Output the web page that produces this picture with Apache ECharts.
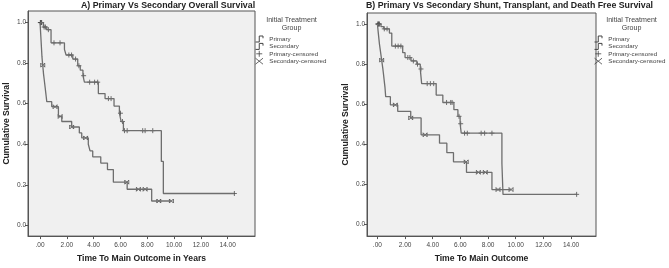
<!DOCTYPE html>
<html><head><meta charset="utf-8">
<script src="https://cdn.jsdelivr.net/npm/echarts@6/dist/echarts.min.js"></script>
<style>html,body{margin:0;padding:0;background:#fff}#c{width:669px;height:268px}</style>
</head><body><div id="c"></div>
<script>
// ---- data ----
const xTicks = [0, 2, 4, 6, 8, 10, 12, 14];
const yTicks = [0, 0.2, 0.4, 0.6, 0.8, 1.0];
const seriesNames = ['Primary', 'Secondary', 'Primary-censored', 'Secondary-censored'];
const titleA = 'A) Primary Vs Secondary Overall Survival';
const titleB = 'B) Primary Vs Secondary Shunt, Transplant, and Death Free Survival';
const xNameA = 'Time To Main Outcome in Years';
const xNameB = 'Time To Main Outcome';
const yName = 'Cumulative Survival';
const legendHeader = 'Initial Treatment\nGroup';

// Panel A - Primary (event times, survival after the event)
const aPrimT = [0, 0.25, 0.5, 0.82, 1.82, 1.94, 2.44, 2.81, 3.0, 3.2, 3.31, 4.35, 4.85, 5.52, 5.92, 6.05, 6.22, 9.05, 9.2, 14.5];
const aPrimS = [1.0, 0.978, 0.965, 0.90, 0.868, 0.84, 0.82, 0.787, 0.765, 0.738, 0.706, 0.65, 0.625, 0.588, 0.553, 0.512, 0.467, 0.315, 0.157, 0.157];
const aPrimCens = [0.02, 0.05, 0.08, 0.12, 0.3, 0.4, 0.62, 1.04, 1.49, 2.15, 2.35, 2.65, 2.9, 3.25, 3.7, 4.07, 4.3, 5.1, 5.3, 6.0, 6.15, 6.3, 6.5, 7.66, 7.84, 8.41, 14.5];
// Panel A - Secondary
const aSecT = [0, 0.02, 0.04, 0.06, 0.08, 0.1, 0.12, 0.14, 0.17, 0.2, 0.23, 0.26, 0.3, 0.34, 0.38, 0.42, 0.46, 0.5, 0.87, 1.37, 1.62, 2.36, 2.93, 3.11, 3.6, 3.73, 3.93, 4.53, 5.03, 5.47, 6.5, 8.33, 9.8];
const aSecS = [1.0, 0.976, 0.952, 0.929, 0.905, 0.881, 0.857, 0.833, 0.81, 0.79, 0.768, 0.746, 0.724, 0.702, 0.68, 0.657, 0.634, 0.61, 0.585, 0.537, 0.512, 0.485, 0.456, 0.431, 0.40, 0.367, 0.338, 0.307, 0.275, 0.213, 0.178, 0.12, 0.12];
const aSecCens = [0.2, 1.12, 1.5, 2.36, 3.4, 6.47, 7.34, 7.84, 8.86, 9.8];

// Panel B - Primary
const bPrimT = [0, 0.26, 0.46, 0.87, 1.04, 1.83, 2.0, 2.43, 2.85, 3.1, 3.2, 4.25, 4.73, 5.53, 5.82, 5.98, 6.06, 9.0, 9.08, 14.4];
const bPrimS = [1.0, 0.987, 0.976, 0.955, 0.89, 0.857, 0.833, 0.816, 0.80, 0.776, 0.703, 0.646, 0.609, 0.573, 0.54, 0.503, 0.456, 0.305, 0.151, 0.151];
const bPrimCens = [0.03, 0.06, 0.1, 0.15, 0.5, 0.7, 1.3, 1.5, 1.7, 2.2, 2.35, 2.6, 2.9, 3.15, 3.6, 3.83, 4.07, 5.0, 5.3, 5.4, 5.9, 6.02, 6.3, 6.5, 7.5, 7.75, 8.28, 14.4];
// Panel B - Secondary
const bSecT = [0, 0.03, 0.06, 0.09, 0.12, 0.15, 0.19, 0.23, 0.27, 0.31, 0.35, 0.39, 0.43, 0.47, 0.51, 0.55, 0.6, 0.94, 1.47, 2.41, 3.16, 4.49, 5.02, 5.5, 6.44, 8.28, 9.66];
const bSecS = [1.0, 0.98, 0.96, 0.94, 0.92, 0.9, 0.88, 0.86, 0.84, 0.82, 0.8, 0.78, 0.757, 0.733, 0.708, 0.684, 0.638, 0.597, 0.565, 0.532, 0.448, 0.406, 0.359, 0.313, 0.261, 0.175, 0.175];
const bSecCens = [0.31, 1.3, 2.41, 3.45, 6.42, 7.3, 7.8, 8.72, 9.66];

// ---- helpers ----
function stepData(T, S) { return T.map((t, i) => [t, S[i]]); }
function censData(C, T, S) {
  return C.map(c => {
    let v = S[0];
    for (let i = 0; i < T.length; i++) { if (T[i] <= c + 1e-9) v = S[i]; }
    return [c, v];
  });
}

const FONT = 'Liberation Sans, Arial, sans-serif';
const LINE = '#6e6e6e';
const MARK = '#3a3a3a';
const plusPath = 'path://M5,0L5,10M0,5L10,5';
const xPath = 'path://M0,0L10,10M10,0L0,10M0,0L0,10M10,0L10,10';
const stepIcon = 'path://M0,9L5,9L5,1L10,1L10,4';

function legendItems() {
  const iconSty = { color: 'transparent', borderColor: '#444', borderWidth: 1 };
  return [
    { name: seriesNames[0], icon: stepIcon, itemStyle: iconSty },
    { name: seriesNames[1], icon: stepIcon, itemStyle: iconSty },
    { name: seriesNames[2], icon: 'path://M0,5L10,5M5,0L5,10', itemStyle: iconSty },
    { name: seriesNames[3], icon: 'path://M0,1L10,9M0,9L10,1', itemStyle: iconSty }
  ];
}
function legend(left) {
  return { data: legendItems(), orient: 'vertical', left: left, top: 35.5, padding: 0, itemWidth: 10, itemHeight: 6, itemGap: 0.4,
    selectedMode: false, textStyle: { fontFamily: FONT, fontSize: 6.2, lineHeight: 7, color: '#444' } };
}

function xAxis(gi, min, max, name) {
  return {
    type: 'value', gridIndex: gi, min: min, max: max,
    name: name, nameLocation: 'middle', nameGap: 14,
    nameTextStyle: { fontFamily: FONT, fontSize: 8.6, fontWeight: 'bold', color: '#222' },
    axisLine: { show: true, onZero: false, lineStyle: { color: '#555', width: 1 } },
    axisTick: { show: true, length: 3, customValues: xTicks, lineStyle: { color: '#555' } },
    axisLabel: { customValues: xTicks, margin: 6, fontFamily: FONT, fontSize: 6.5, color: '#444',
      formatter: v => v === 0 ? '.00' : v.toFixed(2) },
    splitLine: { show: false }
  };
}
function yAxis(gi, min, max) {
  return {
    type: 'value', gridIndex: gi, min: min, max: max,
    name: yName, nameLocation: 'middle', nameGap: 17, nameRotate: 90,
    nameTextStyle: { fontFamily: FONT, fontSize: 8.6, fontWeight: 'bold', color: '#222' },
    axisLine: { show: true, onZero: false, lineStyle: { color: '#555', width: 1 } },
    axisTick: { show: true, length: 3, customValues: yTicks, lineStyle: { color: '#555' } },
    axisLabel: { customValues: yTicks, margin: 2, fontFamily: FONT, fontSize: 6.5, color: '#444',
      formatter: v => v.toFixed(1) },
    splitLine: { show: false }
  };
}
function lineSeries(name, gi, data) {
  return { type: 'line', name: name, xAxisIndex: gi, yAxisIndex: gi, step: 'end', data: data,
    symbol: 'none', lineStyle: { color: LINE, width: 1.3 }, itemStyle: { color: LINE } };
}
function censSeries(name, gi, data, path, size) {
  return { type: 'scatter', name: name, xAxisIndex: gi, yAxisIndex: gi, data: data,
    symbol: path, symbolSize: size,
    itemStyle: { color: 'transparent', borderColor: MARK, borderWidth: 0.9 } };
}
function header(cx) {
  return { type: 'text', x: cx, y: 16.5, silent: true,
    style: { text: legendHeader, align: 'center', verticalAlign: 'top', fill: '#444',
      font: 'normal 7.1px Liberation Sans, Arial, sans-serif', lineHeight: 8 } };
}

const chart = echarts.init(document.getElementById('c'), null, { renderer: 'canvas' });
chart.setOption({
  animation: false,
  backgroundColor: '#ffffff',
  title: [
    { text: titleA, left: 81, top: 1.5, padding: 0, textStyle: { fontFamily: FONT, fontSize: 8.8, fontWeight: 'bold', color: '#222' } },
    { text: titleB, left: 366, top: 1.5, padding: 0, textStyle: { fontFamily: FONT, fontSize: 8.8, fontWeight: 'bold', color: '#222' } }
  ],
  graphic: [header(291.5), header(631.5)],
  legend: [legend(255), legend(594)],
  grid: [
    { left: 28, top: 11, width: 227, height: 229, show: true, backgroundColor: '#f0f0f0', borderColor: '#555', borderWidth: 1 },
    { left: 367, top: 13, width: 229, height: 228, show: true, backgroundColor: '#f0f0f0', borderColor: '#555', borderWidth: 1 }
  ],
  xAxis: [xAxis(0, -0.9, 16.04, xNameA), xAxis(1, -0.75, 15.8, xNameB)],
  yAxis: [yAxis(0, -0.053, 1.057), yAxis(1, -0.057, 1.055)],
  series: [
    lineSeries(seriesNames[0], 0, stepData(aPrimT, aPrimS)),
    lineSeries(seriesNames[1], 0, stepData(aSecT, aSecS)),
    censSeries(seriesNames[2], 0, censData(aPrimCens, aPrimT, aPrimS), plusPath, 5),
    censSeries(seriesNames[3], 0, censData(aSecCens, aSecT, aSecS), xPath, 4),
    lineSeries(seriesNames[0], 1, stepData(bPrimT, bPrimS)),
    lineSeries(seriesNames[1], 1, stepData(bSecT, bSecS)),
    censSeries(seriesNames[2], 1, censData(bPrimCens, bPrimT, bPrimS), plusPath, 5),
    censSeries(seriesNames[3], 1, censData(bSecCens, bSecT, bSecS), xPath, 4)
  ]
});
</script>
</body></html>
